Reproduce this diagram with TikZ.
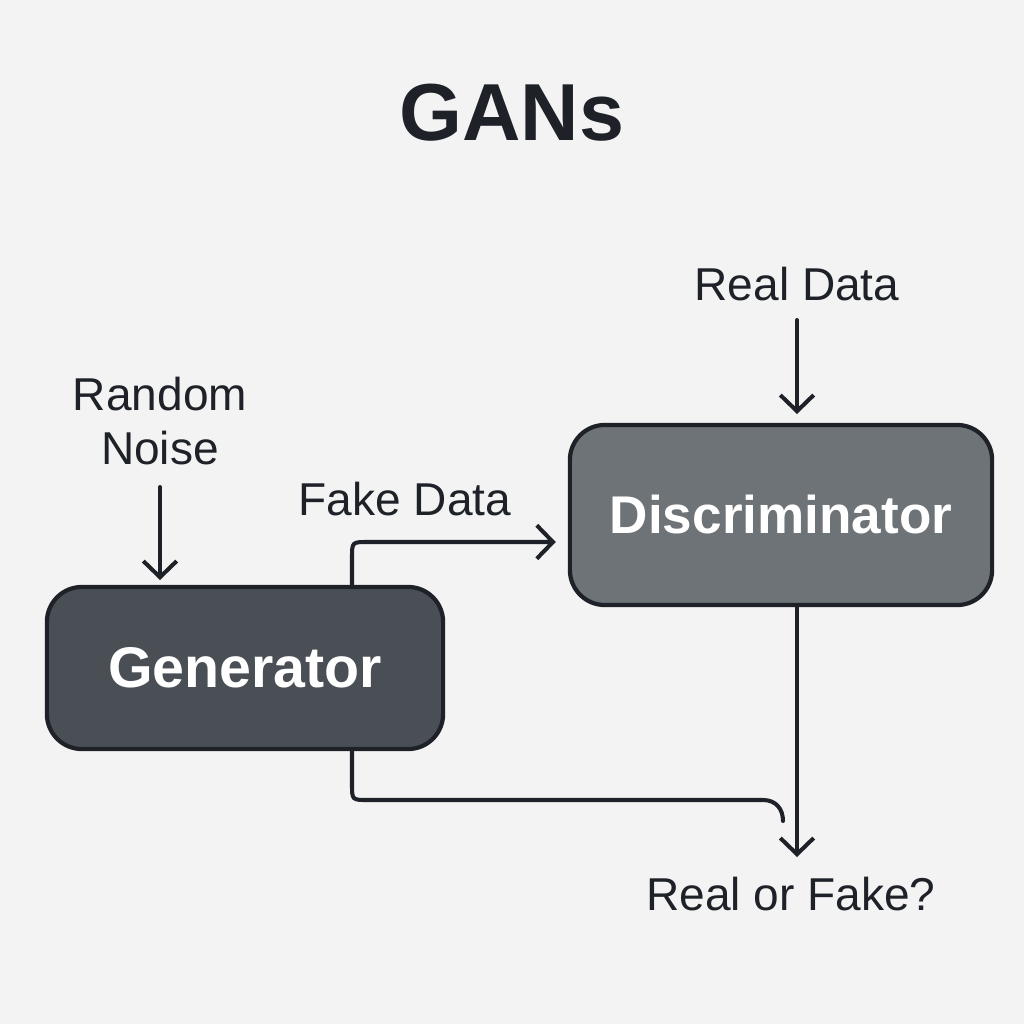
\documentclass[tikz,border=0pt]{standalone}
\usepackage{fontspec}
\setmainfont{Liberation Sans}
\usetikzlibrary{arrows.meta}
\definecolor{bg}{HTML}{F3F3F3}
\definecolor{ink}{HTML}{1E2228}
\definecolor{gen}{HTML}{4A4F56}
\definecolor{disc}{HTML}{6E7378}
\begin{document}
\begin{tikzpicture}[x=0.01cm,y=-0.01cm,
  box/.style={draw=ink, line width=1.2pt, rounded corners=0.35cm, text=white, font=\bfseries},
  lbl/.style={text=ink, font=\fontsize{13.1pt}{15.5pt}\selectfont, align=center, inner sep=0pt},
  conn/.style={draw=ink, line width=1.15pt, line cap=round, line join=round},
  arr/.style={conn, -{Straight Barb[length=4.6pt,width=9.5pt]}}
]
\fill[bg] (0,0) rectangle (1024,1024);
\useasboundingbox (0,0) rectangle (1024,1024);
\node[text=ink, font=\bfseries\fontsize{23pt}{27pt}\selectfont] (title) at (512,113) {GANs};
\node[box, fill=gen, minimum width=3.96cm, minimum height=1.62cm, font=\bfseries\fontsize{16.3pt}{19pt}\selectfont] (G) at (245,668) {Generator};
\node[box, fill=disc, minimum width=4.22cm, minimum height=1.80cm, font=\bfseries\fontsize{15.1pt}{18pt}\selectfont] (D) at (781,515) {Discriminator};
\node[lbl] (noise) at (160,421) {Random\\Noise};
\node[lbl] (real) at (797,284) {Real Data};
\node[lbl] (fake) at (405,499) {Fake Data};
\node[lbl] (out) at (791,894) {Real or Fake?};
\coordinate (na) at (160,487);
\coordinate (ra) at (797,320);
\coordinate (oa) at (797,857);
\coordinate (gend) at (783,821);
\draw[arr] (na) -- (160,580);
\draw[arr] (ra) -- (797,414);
\draw[arr] (D.south -| oa) -- (oa);
\draw[arr] (G.north -| 352,0) -- (352,558) .. controls (352,542) .. (368,542) -- ([xshift=-0.12cm]D.west |- 0,542);
\draw[conn] (G.south -| 352,0) -- (352,784) .. controls (352,800) .. (368,800) -- (763,800) .. controls (776,800) and (783,809) .. (gend);
\end{tikzpicture}
\end{document}
